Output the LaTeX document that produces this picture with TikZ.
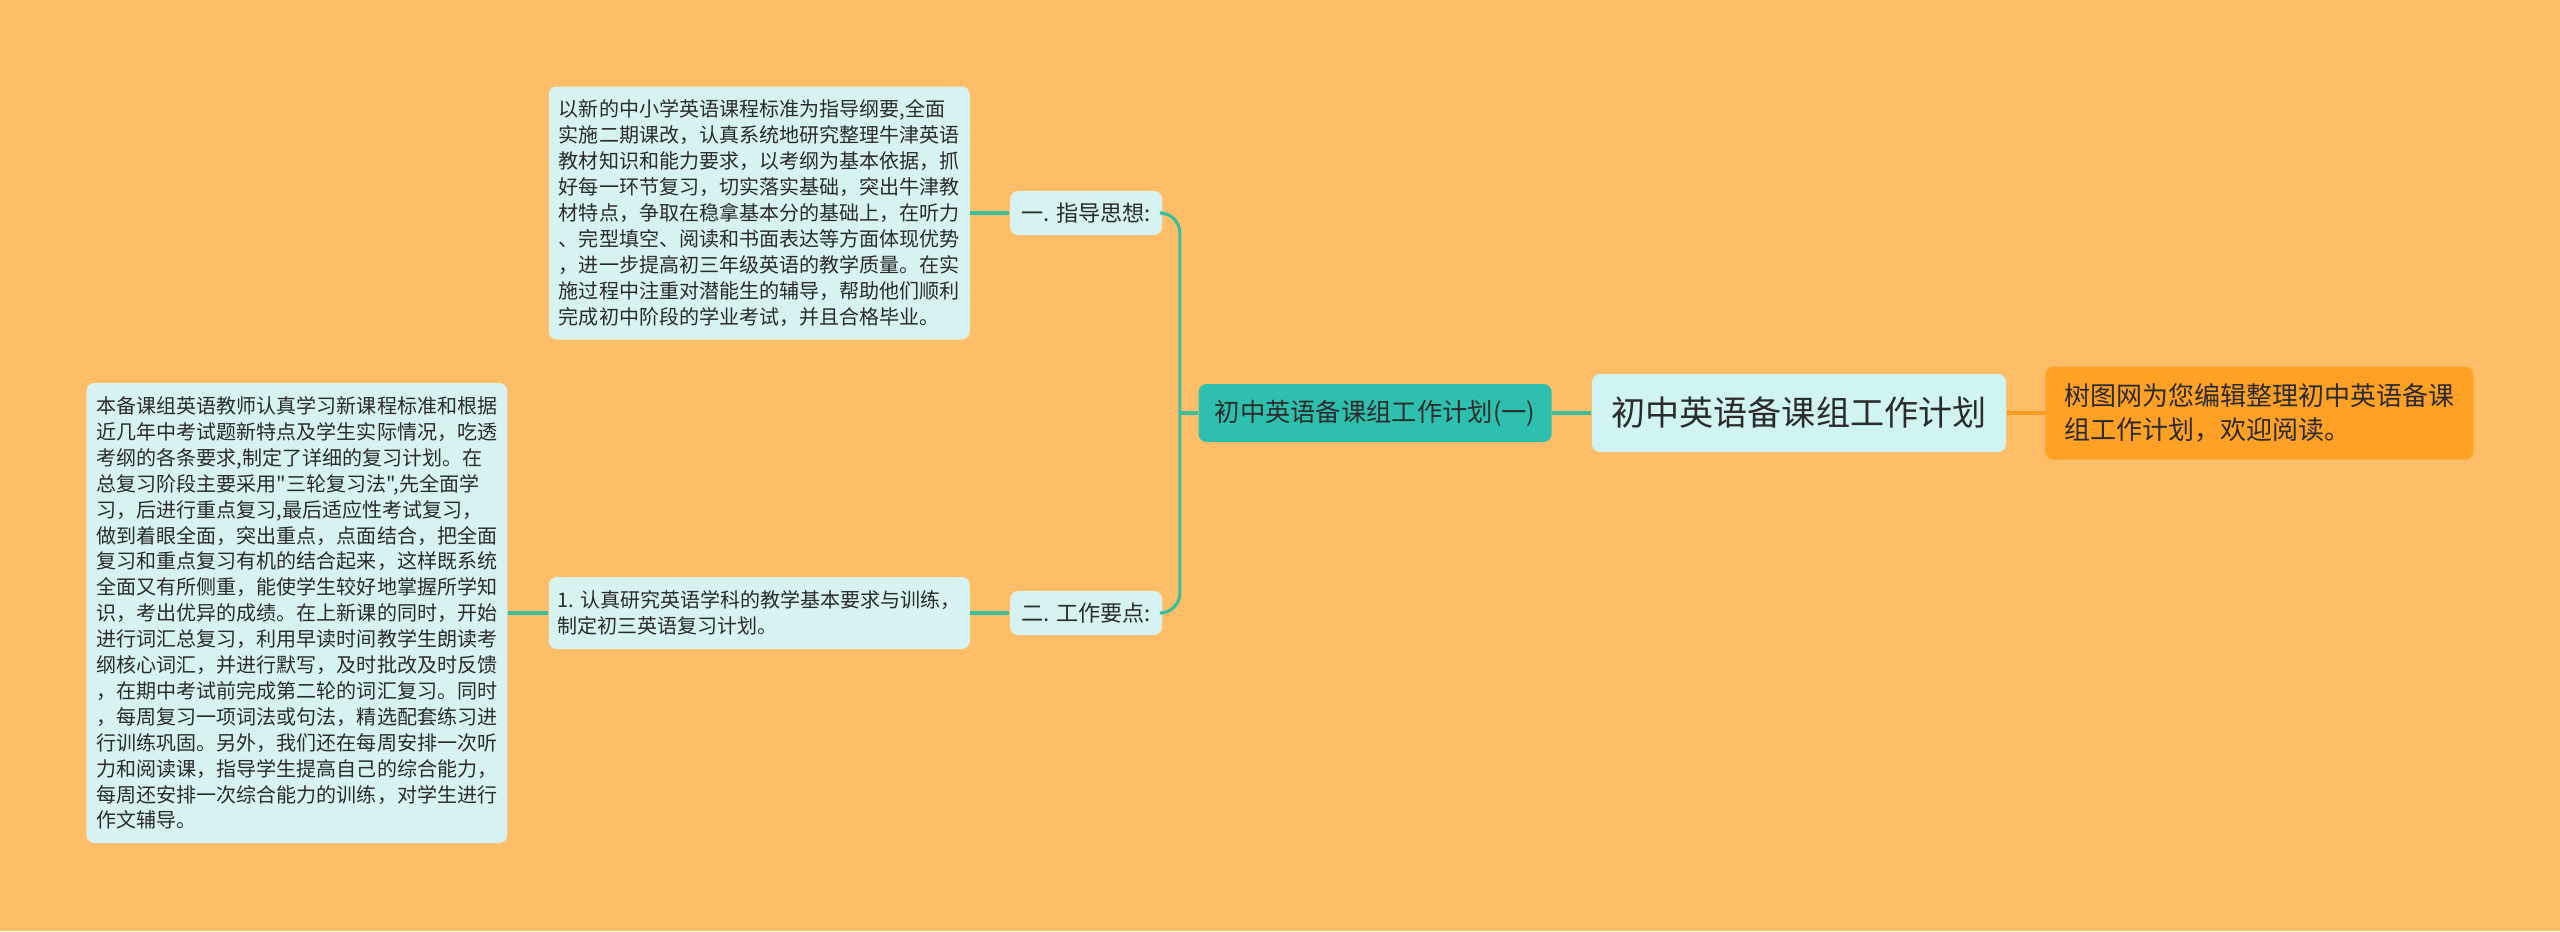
\documentclass[tikz,border=0pt]{standalone}
\usepackage{fontspec}
\setmainfont{Noto Sans CJK SC}[Ligatures=TeXOff]
\usetikzlibrary{positioning}
\definecolor{bgorange}{HTML}{FEBE68}
\definecolor{boxcyan}{HTML}{D6F3F1}
\definecolor{maincyan}{HTML}{D0F4F1}
\definecolor{tealbox}{HTML}{2EC0AE}
\definecolor{tealline}{HTML}{3ABE9E}
\definecolor{orangebox}{HTML}{FFA125}
\definecolor{orangeline}{HTML}{FB9C22}
\definecolor{textdark}{HTML}{2B2B2B}
\begin{document}
\begin{tikzpicture}[node distance=0.39cm,
    leaf/.style={fill=boxcyan, rounded corners=0.8mm, text=textdark, align=left, inner sep=2pt, minimum width=4.21cm, font=\fontsize{5.7}{7.37}\selectfont},
    tag/.style={fill=boxcyan, rounded corners=0.8mm, text=textdark, minimum width=1.52cm, minimum height=0.44cm, inner sep=1pt, font=\fontsize{6.3}{7.5}\selectfont},
    branch/.style={draw=tealline, line width=0.9pt, rounded corners=0.2cm}]
    \fill[bgorange] (0,0) rectangle (25.6,-9.31);
    \useasboundingbox (0,0) rectangle (25.6,-9.31);

    \node[fill=maincyan, rounded corners=0.8mm, text=textdark, minimum width=4.14cm, minimum height=0.78cm, font=\fontsize{9.7}{11}\selectfont] (main) at (17.99,-4.13) {初中英语备课组工作计划};
    \node[fill=orangebox, rounded corners=0.8mm, text=textdark, align=left, minimum width=4.28cm, minimum height=0.93cm, font=\fontsize{7.4}{9.7}\selectfont, right=0.38cm of main] (note) {树图网为您编辑整理初中英语备课\\组工作计划，欢迎阅读。};
    \node[fill=tealbox, rounded corners=0.8mm, text=textdark, minimum width=3.53cm, minimum height=0.58cm, font=\fontsize{7.2}{8.5}\selectfont, left=of main] (plan) {初中英语备课组工作计划(一)};

    \node[tag, left=0.35cm of plan, yshift=2cm] (guide) {一. 指导思想:};
    \node[tag, left=0.35cm of plan, yshift=-2cm] (points) {二. 工作要点:};

    \node[leaf, minimum height=2.53cm, left=of guide] (guidetext) {以新的中小学英语课程标准为指导纲要,全面\\实施二期课改，认真系统地研究整理牛津英语\\教材知识和能力要求，以考纲为基本依据，抓\\好每一环节复习，切实落实基础，突出牛津教\\材特点，争取在稳拿基本分的基础上，在听力\\、完型填空、阅读和书面表达等方面体现优势\\，进一步提高初三年级英语的教学质量。在实\\施过程中注重对潜能生的辅导，帮助他们顺利\\完成初中阶段的学业考试，并且合格毕业。};
    \node[leaf, minimum height=0.72cm, left=of points] (point1) {1. 认真研究英语学科的教学基本要求与训练，\\制定初三英语复习计划。};
    \node[leaf, minimum height=4.60cm, left=0.40cm of point1] (point1text) {本备课组英语教师认真学习新课程标准和根据\\近几年中考试题新特点及学生实际情况，吃透\\考纲的各条要求,制定了详细的复习计划。在\\总复习阶段主要采用"三轮复习法",先全面学\\习，后进行重点复习,最后适应性考试复习，\\做到着眼全面，突出重点，点面结合，把全面\\复习和重点复习有机的结合起来，这样既系统\\全面又有所侧重，能使学生较好地掌握所学知\\识，考出优异的成绩。在上新课的同时，开始\\进行词汇总复习，利用早读时间教学生朗读考\\纲核心词汇，并进行默写，及时批改及时反馈\\，在期中考试前完成第二轮的词汇复习。同时\\，每周复习一项词法或句法，精选配套练习进\\行训练巩固。另外，我们还在每周安排一次听\\力和阅读课，指导学生提高自己的综合能力，\\每周还安排一次综合能力的训练，对学生进行\\作文辅导。};

    % fork left of the teal node
    \coordinate[left=0.18cm of plan.west] (fork);

    \draw[draw=orangeline, line width=0.9pt] (main) -- (note);
    \draw[branch] (main) -- (plan);
    \draw[branch] (plan.west) -- (fork);
    \draw[branch] (guide.east) -| (fork) |- (points.east);
    \draw[branch] (guide) -- (guidetext);
    \draw[branch] (points) -- (point1);
    \draw[branch] (point1) -- (point1text);
\end{tikzpicture}
\end{document}
